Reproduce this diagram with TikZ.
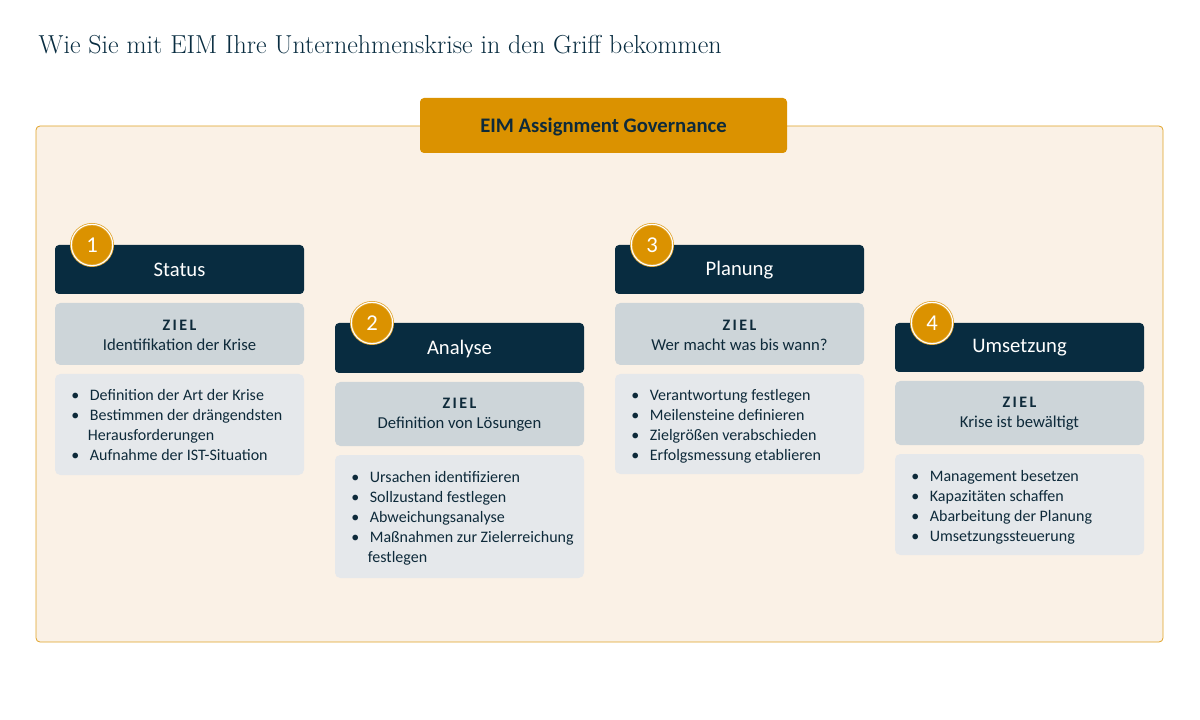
\documentclass[tikz,border=0pt]{standalone}
\usepackage{fontspec}
\setsansfont{Carlito}
\definecolor{dk}{HTML}{082C40}
\definecolor{txt}{HTML}{0E2A3A}
\definecolor{gold}{HTML}{DB9200}
\definecolor{cream}{HTML}{FAF1E6}
\definecolor{zielc}{HTML}{CDD5D9}
\definecolor{listc}{HTML}{E5E8EB}
\tikzset{
 hdr/.style={fill=dk,rounded corners=3pt,draw=none},
 zbox/.style={fill=zielc,rounded corners=4pt,draw=none},
 lbox/.style={fill=listc,rounded corners=4pt,draw=none},
 htext/.style={text=white,font=\sffamily\fontsize{15.5}{18}\selectfont},
 ztext/.style={text=txt,align=center,font=\sffamily\fontsize{12.5}{15}\selectfont},
 ltext/.style={text=txt,align=left,anchor=north west,inner sep=0pt,font=\sffamily\fontsize{12}{15}\selectfont},
 badge/.style={circle,fill=gold,draw=gold!80!white,double=white,double distance=0.8pt,line width=0.6pt,minimum size=31pt,inner sep=0pt,text=white,font=\sffamily\fontsize{17}{19}\selectfont},
}
\newcommand{\zl}{{\fontsize{12}{15}\selectfont\bfseries\addfontfeature{LetterSpace=15}ZIEL}}
\begin{document}
\begin{tikzpicture}[x=0.75pt,y=-0.75pt]
\useasboundingbox (0,0) rectangle (1200,720);
\node[anchor=west,text=dk,font=\fontsize{19.5}{22}\selectfont\addfontfeature{LetterSpace=3,FakeBold=0.6}] (title) at (34,45) {Wie Sie mit EIM Ihre Unternehmenskrise in den Griff bekommen};
\path[fill=cream,draw=gold!85!white,line width=0.6pt,rounded corners=3pt] (36,126) rectangle (1163,642);
\path[fill=gold,rounded corners=3pt] (420,98) rectangle (787,153);
\node[text=txt,font=\sffamily\bfseries\fontsize{15.5}{18}\selectfont] (gov) at (603.5,127) {EIM Assignment Governance};
% columns
\path[hdr] (55,245) rectangle (304,294); \node[htext] (h1) at (179.5,270) {Status};
\path[zbox] (55,303) rectangle (304,365); \node[ztext] (z1) at (179.5,335) {\zl\\Identifikation der Krise};
\path[lbox] (55,374) rectangle (304,475);
\node[ltext] (l1) at (71,389) {\textbullet\hspace{8pt}Definition der Art der Krise\\\textbullet\hspace{8pt}Bestimmen der drängendsten\\\hspace{12.5pt}Herausforderungen\\\textbullet\hspace{8pt}Aufnahme der IST-Situation};
\node[badge] (b1) at (92,245) {1};

\path[hdr] (335,323) rectangle (584,373); \node[htext] (h2) at (459.5,349) {Analyse};
\path[zbox] (335,382) rectangle (584,446); \node[ztext] (z2) at (459.5,415) {\zl\\Definition von Lösungen};
\path[lbox] (335,455) rectangle (584,578);
\node[ltext] (l2) at (351,471) {\textbullet\hspace{8pt}Ursachen identifizieren\\\textbullet\hspace{8pt}Sollzustand festlegen\\\textbullet\hspace{8pt}Abweichungsanalyse\\\textbullet\hspace{8pt}Maßnahmen zur Zielerreichung\\\hspace{12.5pt}festlegen};
\node[badge] (b2) at (372,323) {2};

\path[hdr] (615,245) rectangle (864,294); \node[htext] (h3) at (739.5,270) {Planung};
\path[zbox] (615,303) rectangle (864,365); \node[ztext] (z3) at (739.5,335) {\zl\\Wer macht was bis wann?};
\path[lbox] (615,374) rectangle (864,474);
\node[ltext] (l3) at (631,389) {\textbullet\hspace{8pt}Verantwortung festlegen\\\textbullet\hspace{8pt}Meilensteine definieren\\\textbullet\hspace{8pt}Zielgrößen verabschieden\\\textbullet\hspace{8pt}Erfolgsmessung etablieren};
\node[badge] (b3) at (652,245) {3};

\path[hdr] (895,323) rectangle (1144,372); \node[htext] (h4) at (1019.5,348) {Umsetzung};
\path[zbox] (895,381) rectangle (1144,445); \node[ztext] (z4) at (1019.5,414) {\zl\\Krise ist bewältigt};
\path[lbox] (895,454) rectangle (1144,555);
\node[ltext] (l4) at (911,470) {\textbullet\hspace{8pt}Management besetzen\\\textbullet\hspace{8pt}Kapazitäten schaffen\\\textbullet\hspace{8pt}Abarbeitung der Planung\\\textbullet\hspace{8pt}Umsetzungssteuerung};
\node[badge] (b4) at (932,323) {4};
\end{tikzpicture}
\end{document}
